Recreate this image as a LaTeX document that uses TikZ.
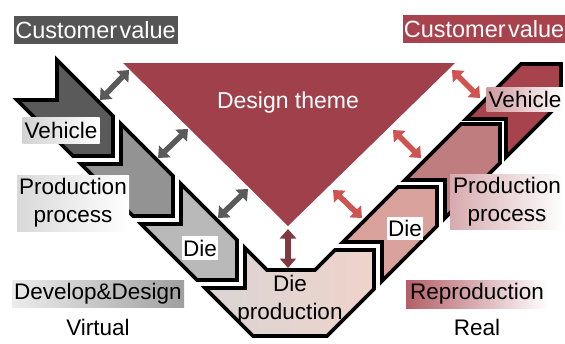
\documentclass[tikz,border=0pt]{standalone}
\usepackage{fontspec}
\setmainfont{Liberation Sans}
\usetikzlibrary{arrows.meta}
\definecolor{tri}{HTML}{A0404A}
\definecolor{cvgray}{HTML}{555555}
\definecolor{cvred}{HTML}{A8434D}
\definecolor{lveh}{HTML}{5A5A5A}
\definecolor{lprod}{HTML}{939393}
\definecolor{ldie}{HTML}{B9B9B9}
\definecolor{dpl}{HTML}{DAD5D5}
\definecolor{dpr}{HTML}{EFD3CA}
\definecolor{rdie}{HTML}{D9A29C}
\definecolor{rprod}{HTML}{C07D80}
\definecolor{rveh}{HTML}{A6434C}
\definecolor{larr}{HTML}{5A5A5A}
\definecolor{rarr}{HTML}{CF5350}
\definecolor{carr}{HTML}{7E3A40}
\begin{document}
\begin{tikzpicture}[x=1pt,y=-1pt,
  font=\fontsize{22.5}{28}\selectfont,
  chev/.style={draw=black,line width=3.8pt,line join=miter},
  lbl/.style={inner sep=1pt,align=center,text=black},
  head/.style={text=white,inner sep=1pt,minimum height=28pt,font=\fontsize{23.5}{28}\selectfont},
  dbl/.style={line width=5.5pt,{Triangle[width=16pt,length=9.5pt]}-{Triangle[width=16pt,length=9.5pt]}},
]
\useasboundingbox (0,0) rectangle (565,343);
\fill[white] (0,0) rectangle (565,343);

% triangle
\fill[tri] (123,63) -- (455,63) -- (288,226) -- cycle;
\node[text=white,font=\fontsize{23}{28}\selectfont] (theme) at (288,103) {Design theme};

% left chevrons
\draw[chev,fill=lveh] (57,60) -- (57,100) -- (17,100) -- (73,156) -- (113,156) -- (113,116) -- cycle;
\draw[chev,fill=lprod] (121,124) -- (121,164) -- (81,164) -- (133,216) -- (173,216) -- (173,176) -- cycle;
\draw[chev,fill=ldie] (181,184) -- (181,224) -- (141,224) -- (197,280) -- (237,280) -- (237,240) -- cycle;
% die production
\draw[chev,left color=dpl,right color=dpr] (245,248) -- (267,270) -- (315,270) -- (335,250) -- (374,250) -- (374,289) -- (327,336) -- (253,336) -- (205,288) -- (245,288) -- cycle;
% right chevrons
\draw[chev,fill=rdie] (343,242) -- (398,187) -- (437,187) -- (437,226) -- (382,281) -- (382,242) -- cycle;
\draw[chev,fill=rprod] (405,180) -- (461,124) -- (500,124) -- (500,163) -- (445,218) -- (445,180) -- cycle;
\draw[chev,fill=rveh] (466,119) -- (521,64) -- (561,64) -- (561,102) -- (506,157) -- (506,119) -- cycle;

% headings
\node[head,fill=cvgray,minimum width=164pt] (cvL) at (95.5,30) {Customer\hspace{0.1em}value};
\node[head,fill=cvred,minimum width=162pt] (cvR) at (484,29) {Customer\hspace{0.1em}value};

% labels left
\node[lbl,left color=gray!35,right color=white,minimum width=77pt,minimum height=26pt] (vehL) at (61,130) {Vehicle};
\node[lbl,left color=gray!30,right color=white,minimum width=112pt,minimum height=56pt] (prodL) at (73,203) {Production\\process};
\node[lbl,fill=white,minimum width=36pt,minimum height=24pt] (dieL) at (200,248) {Die};
\node[lbl] (diep) at (290,300) {Die\\production};
% labels right
\node[lbl,left color=rveh!55,right color=white,minimum width=77pt,minimum height=24pt] (vehR) at (525,99) {Vehicle};
\node[lbl,fill=white,minimum width=34pt,minimum height=23pt] (dieR) at (405,228) {Die};
\node[lbl,left color=rveh!45,right color=white,minimum width=114pt,minimum height=55pt] (prodR) at (507,202) {Production\\process};

% bottom labels
\node[lbl,left color=gray!15,right color=gray!75,minimum width=172pt,minimum height=27pt] (dev) at (98,294) {Develop\&Design};
\node[lbl] (virt) at (98,327) {Virtual};
\node[lbl,left color=rveh!85,right color=white,minimum width=142pt,minimum height=28pt] (repro) at (477,294) {Reproduction};
\node[lbl] (real) at (477,327) {Real};

% arrow end points
\coordinate (la1) at (100,100); \coordinate (lb1) at (129,70);
\coordinate (la2) at (158,158); \coordinate (lb2) at (188,129);
\coordinate (la3) at (218,218); \coordinate (lb3) at (248,189);
\coordinate (ra1) at (452,70);  \coordinate (rb1) at (480,98);
\coordinate (ra2) at (393,130); \coordinate (rb2) at (421,158);
\coordinate (ra3) at (333,190); \coordinate (rb3) at (362,218);
\coordinate (ca) at (288,229);  \coordinate (cb) at (288,268);

\draw[dbl,larr] (la1) -- (lb1);
\draw[dbl,larr] (la2) -- (lb2);
\draw[dbl,larr] (la3) -- (lb3);
\draw[dbl,rarr] (ra1) -- (rb1);
\draw[dbl,rarr] (ra2) -- (rb2);
\draw[dbl,rarr] (ra3) -- (rb3);
\draw[dbl,carr] (ca) -- (cb);
\end{tikzpicture}
\end{document}
